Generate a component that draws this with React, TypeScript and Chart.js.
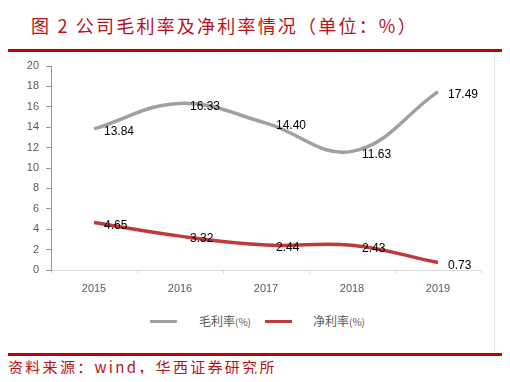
import React, { useEffect, useRef } from "react";
import { Chart, registerables } from "chart.js";

Chart.register(...registerables);

const years = ["2015", "2016", "2017", "2018", "2019"];
const grossMargin = [13.84, 16.33, 14.4, 11.63, 17.49];
const netMargin = [4.65, 3.32, 2.44, 2.43, 0.73];
const yTicks = [0, 2, 4, 6, 8, 10, 12, 14, 16, 18, 20];
const seriesNames = ["毛利率", "净利率"];

const RED = "#B5121B";
const GRAY_LINE = "#A0A0A0";
const RED_LINE = "#C0393B";

const labelPlugin = {
  id: "valueLabels",
  afterDatasetsDraw(chart: any) {
    const ctx = chart.ctx;
    ctx.save();
    ctx.font = "12px 'Liberation Sans', Arial, sans-serif";
    ctx.fillStyle = "#000";
    ctx.textAlign = "left";
    ctx.textBaseline = "middle";
    chart.data.datasets.forEach((ds: any, i: number) => {
      const meta = chart.getDatasetMeta(i);
      meta.data.forEach((el: any, j: number) => {
        ctx.fillText(Number(ds.data[j]).toFixed(2), el.x + 10, el.y + 3);
      });
    });
    ctx.restore();
  },
};

export default function App() {
  const ref = useRef<HTMLCanvasElement>(null);
  useEffect(() => {
    if (!ref.current) return;
    const tickFont = { family: "'Liberation Sans', Arial, sans-serif", size: 11 };
    const chart = new Chart(ref.current, {
      type: "line",
      data: {
        labels: years,
        datasets: [
          {
            label: seriesNames[0],
            data: grossMargin,
            borderColor: GRAY_LINE,
            borderWidth: 3.5,
            tension: 0.4,
            pointRadius: 0,
            fill: false,
          },
          {
            label: seriesNames[1],
            data: netMargin,
            borderColor: RED_LINE,
            borderWidth: 3.5,
            tension: 0.4,
            pointRadius: 0,
            fill: false,
          },
        ],
      },
      options: {
        responsive: false,
        animation: false,
        layout: { padding: { left: 0, top: 66, right: 29, bottom: 0 } },
        plugins: { legend: { display: false }, tooltip: { enabled: false } },
        scales: {
          x: {
            offset: true,
            grid: { offset: true, drawOnChartArea: false, drawTicks: true, tickLength: 4, color: "#D9D9D9" },
            border: { color: "#D9D9D9", width: 1 },
            ticks: { color: "#595959", font: tickFont, padding: 8, maxRotation: 0 },
            afterFit: (s: any) => {
              s.height = 30;
            },
          },
          y: {
            min: 0,
            max: 20,
            afterBuildTicks: (s: any) => {
              s.ticks = yTicks.map((v) => ({ value: v }));
            },
            grid: { drawOnChartArea: false, drawTicks: true, tickLength: 5, color: "#8597AE" },
            border: { color: "#8597AE", width: 1 },
            ticks: { color: "#595959", font: tickFont, padding: 7 },
            afterFit: (s: any) => {
              s.width = 51;
            },
          },
        },
      },
      plugins: [labelPlugin],
    } as any);
    return () => chart.destroy();
  }, []);

  const legendText: React.CSSProperties = {
    position: "absolute",
    top: 312,
    fontFamily: "'Noto Sans CJK SC', sans-serif",
    fontSize: 12,
    color: "#595959",
    lineHeight: "18px",
    whiteSpace: "nowrap",
  };

  return (
    <div style={{ position: "relative", width: 510, height: 382, margin: -8, background: "#fff", overflow: "hidden" }}>
      <div
        style={{
          position: "absolute",
          left: 31,
          top: 13,
          fontFamily: "'Noto Sans CJK SC', sans-serif",
          fontSize: 18,
          lineHeight: "24px",
          color: RED,
          whiteSpace: "nowrap",
          letterSpacing: 2.2,
        }}
      >
        图 2 公司毛利率及净利率情况（单位：%）
      </div>
      <div style={{ position: "absolute", left: 7, top: 49, width: 498, height: 3, background: "#C00000" }} />
      <div style={{ position: "absolute", left: 494, top: 52, width: 1, height: 300, background: "#E8E8E8" }} />
      <canvas ref={ref} width={510} height={300} style={{ position: "absolute", left: 0, top: 0 }} />
      <div style={{ position: "absolute", left: 150, top: 320, width: 27, height: 3, background: GRAY_LINE }} />
      <div style={{ ...legendText, left: 199 }}>
        {seriesNames[0]}
        <span style={{ fontSize: 10 }}>(%)</span>
      </div>
      <div style={{ position: "absolute", left: 265, top: 320, width: 27, height: 3, background: RED_LINE }} />
      <div style={{ ...legendText, left: 313 }}>
        {seriesNames[1]}
        <span style={{ fontSize: 10 }}>(%)</span>
      </div>
      <div style={{ position: "absolute", left: 7, top: 353, width: 498, height: 3, background: "#C00000" }} />
      <div
        style={{
          position: "absolute",
          left: 8,
          top: 358,
          fontFamily: "'Noto Sans CJK SC', sans-serif",
          fontSize: 15,
          lineHeight: "18px",
          color: RED,
          whiteSpace: "nowrap",
          letterSpacing: 2.3,
        }}
      >
        资料来源：wind，华西证券研究所
      </div>
    </div>
  );
}
